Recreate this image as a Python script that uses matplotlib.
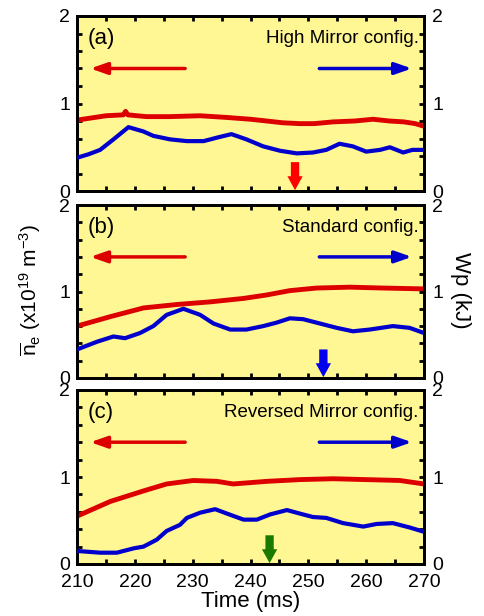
import matplotlib
matplotlib.use("Agg")
import matplotlib.pyplot as plt
from matplotlib.ticker import MultipleLocator

plt.rcParams['font.family'] = ['Liberation Sans', 'DejaVu Sans']
plt.rcParams['mathtext.fontset'] = 'custom'
plt.rcParams['mathtext.rm'] = 'Liberation Sans'
plt.rcParams['mathtext.it'] = 'Liberation Sans'

# ---------------- data ----------------
panel_labels = ['(a)', '(b)', '(c)']
config_names = ['High Mirror config.', 'Standard config.', 'Reversed Mirror config.']

# panel (a) High Mirror
ne_a_t = [210, 212, 215, 218, 218.4, 218.8, 222, 226, 231.3, 236, 240, 242.8, 245.5, 248.5, 251, 254.3, 258, 261.2, 264, 266.5, 268.5, 270]
ne_a = [0.81, 0.83, 0.86, 0.87, 0.91, 0.87, 0.85, 0.85, 0.86, 0.84, 0.82, 0.80, 0.78, 0.77, 0.77, 0.79, 0.80, 0.82, 0.80, 0.79, 0.77, 0.74]
wp_a_t = [210, 212, 214, 216.3, 218.9, 221.5, 223.2, 226.1, 229, 231.9, 234.2, 236.7, 239.3, 242.2, 245.1, 248, 250.8, 253.1, 255.4, 257.7, 260, 262.4, 264.1, 266.4, 268, 270]
wp_a = [0.38, 0.42, 0.47, 0.59, 0.73, 0.68, 0.63, 0.59, 0.57, 0.57, 0.61, 0.65, 0.59, 0.51, 0.46, 0.43, 0.44, 0.47, 0.54, 0.51, 0.45, 0.47, 0.50, 0.44, 0.47, 0.47]

# panel (b) Standard
ne_b_t = [210, 215.8, 221.5, 227.3, 233, 238.8, 242.8, 246.8, 251.4, 257.2, 262.9, 270]
ne_b = [0.60, 0.71, 0.81, 0.85, 0.88, 0.92, 0.96, 1.01, 1.04, 1.05, 1.04, 1.03]
wp_b_t = [210, 213.5, 216.3, 218.3, 220.9, 223.2, 225.5, 228.4, 231.3, 233.6, 236.5, 239.3, 242.2, 244.5, 246.8, 249.1, 252, 254.9, 257.7, 260.6, 264.6, 267.5, 270]
wp_b = [0.33, 0.42, 0.48, 0.46, 0.52, 0.60, 0.73, 0.80, 0.73, 0.63, 0.56, 0.56, 0.60, 0.64, 0.69, 0.68, 0.63, 0.58, 0.54, 0.56, 0.60, 0.58, 0.52]

# panel (c) Reversed Mirror
ne_c_t = [210, 215.8, 221.5, 225.5, 230.1, 234.2, 237, 242.8, 248.5, 254.3, 260, 265.8, 270]
ne_c = [0.55, 0.72, 0.84, 0.92, 0.96, 0.95, 0.92, 0.95, 0.97, 0.98, 0.97, 0.96, 0.92]
wp_c_t = [210, 214, 216.9, 219.8, 221.5, 223.8, 225.5, 227.8, 229, 231.3, 233.9, 235.9, 238.8, 241.1, 243.4, 246.3, 248.5, 250.8, 253.1, 256, 259.5, 261.8, 264.6, 267.5, 270]
wp_c = [0.15, 0.13, 0.13, 0.18, 0.20, 0.28, 0.38, 0.45, 0.53, 0.59, 0.63, 0.58, 0.51, 0.51, 0.57, 0.62, 0.58, 0.54, 0.53, 0.47, 0.43, 0.46, 0.47, 0.42, 0.37]

ne_t = [ne_a_t, ne_b_t, ne_c_t]
ne_vals = [ne_a, ne_b, ne_c]
wp_t = [wp_a_t, wp_b_t, wp_c_t]
wp_vals = [wp_a, wp_b, wp_c]

# marker arrows (time, colour)
mark_times = [247.7, 252.6, 243.3]
mark_colors = ['#FF0000', '#0000EE', '#1A7A00']
arrow_top, arrow_tip = 0.33, 0.01
harrow_y = 1.40
left_arrow = (228.7, 212.3)
right_arrow = (251.9, 267.9)

# ---------------- figure ----------------
fig = plt.figure(figsize=(4.85, 6.16), dpi=100)
W, H = 485, 616
left, right = 77, 424
panels_px = [(16, 191), (205, 378), (390, 564)]

bg = '#FFF694'
red = '#DD0000'
blue = '#0000CC'

axes = []
for i, (top, bot) in enumerate(panels_px):
    ax = fig.add_axes([left / W, 1 - bot / H, (right - left) / W, (bot - top) / H])
    ax.set_facecolor(bg)
    ax2 = ax.twinx()
    ax.set_xlim(210, 270)
    ax.set_ylim(0, 2)
    ax2.set_ylim(0, 2)
    ax.plot(ne_t[i], ne_vals[i], color=red, lw=3.5, solid_capstyle='butt', zorder=3)
    ax2.plot(wp_t[i], wp_vals[i], color=blue, lw=3.0, solid_capstyle='butt', zorder=3)

    for a in (ax, ax2):
        for s in a.spines.values():
            s.set_linewidth(2.0)
        a.yaxis.set_major_locator(MultipleLocator(1))
        a.yaxis.set_minor_locator(MultipleLocator(0.2))
    ax.xaxis.set_major_locator(MultipleLocator(10))
    ax.xaxis.set_minor_locator(MultipleLocator(5))
    ax.tick_params(which='both', direction='in', top=True, right=False, left=True,
                   length=3.5, width=2, labelsize=14)
    ax.tick_params(axis='y', pad=5)
    ax.tick_params(axis='x', pad=7)
    ax2.tick_params(which='both', direction='in', right=True, length=3.5, width=2,
                    labelsize=14, pad=6)
    if i < 2:
        ax.tick_params(labelbottom=False)
    else:
        ax.set_xticks([210, 220, 230, 240, 250, 260, 270])
        ax.set_xticklabels(['210', '220', '230', '240', '250', '260', '270'])
        ax.set_xlabel('Time (ms)', fontsize=16, labelpad=0)
    ax.set_yticks([0, 1, 2])
    ax.set_yticklabels(['0', '1', '2'])
    ax2.set_yticks([0, 1, 2])
    ax2.set_yticklabels(['0', '1', '2'])

    ax.text(0.03, 0.87, panel_labels[i], transform=ax.transAxes, fontsize=16,
            va='center', ha='left')
    ax.text(0.985, 0.87, config_names[i], transform=ax.transAxes, fontsize=13.5,
            va='center', ha='right')

    ax2.annotate('', xy=(left_arrow[1], harrow_y), xytext=(left_arrow[0], harrow_y),
                 arrowprops=dict(arrowstyle='-|>,head_length=1.0,head_width=0.35',
                                 color=red, lw=2.5, mutation_scale=10, shrinkA=0, shrinkB=0))
    ax2.annotate('', xy=(right_arrow[1], harrow_y), xytext=(right_arrow[0], harrow_y),
                 arrowprops=dict(arrowstyle='-|>,head_length=1.0,head_width=0.35',
                                 color=blue, lw=2.5, mutation_scale=10, shrinkA=0, shrinkB=0))
    ax2.annotate('', xy=(mark_times[i], arrow_tip), xytext=(mark_times[i], arrow_top),
                 arrowprops=dict(arrowstyle='simple,head_length=1.0,head_width=1.1,tail_width=0.6',
                                 color=mark_colors[i], lw=0, mutation_scale=10,
                                 shrinkA=0, shrinkB=0))
    axes.append(ax)

fig.text(30 / W, 1 - 290 / H, r'$\overline{\mathrm{n}}_\mathrm{e}$ (x10$^{19}$ m$^{-3}$)',
         rotation=90, fontsize=15, ha='center', va='center')
fig.text(461 / W, 1 - 290 / H, 'Wp (kJ)', rotation=270, fontsize=16,
         ha='center', va='center')

fig.savefig('out.png', dpi=100)
